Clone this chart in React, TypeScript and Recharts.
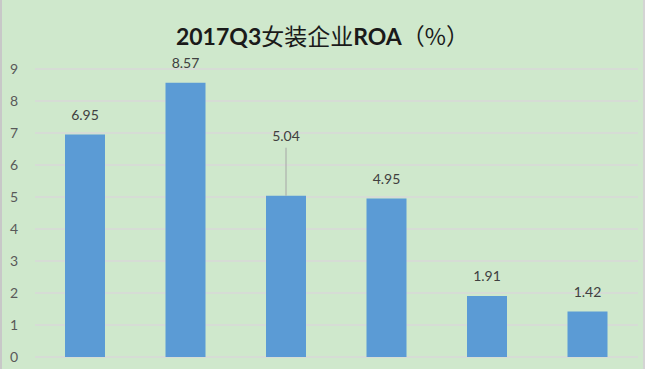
import React from 'react';
import { BarChart, Bar, XAxis, YAxis, CartesianGrid, LabelList } from 'recharts';

const categories = ['公司1', '公司2', '公司3', '公司4', '公司5', '公司6'];
const roaValues = [6.95, 8.57, 5.04, 4.95, 1.91, 1.42];
const yTicks = [0, 1, 2, 3, 4, 5, 6, 7, 8, 9];
const titleParts = ['2017Q3', '女装企业', 'ROA', '（%）'];

const data = categories.map((name, i) => ({ name, roa: roaValues[i] }));

const FONT = 'Lato, "Noto Sans CJK SC", sans-serif';

const renderLabel = (props: any) => {
  const { x, y, width, value, index } = props;
  const cx = x + width / 2;
  if (index === 2) {
    const ly = y - 60;
    return (
      <g>
        <line x1={cx} y1={ly + 12} x2={cx} y2={y} stroke="#a6a6a6" strokeWidth={1} />
        <text x={cx} y={ly} textAnchor="middle" dominantBaseline="central" fill="#404040" fontSize={14} fontFamily={FONT}>
          {value.toFixed(2)}
        </text>
      </g>
    );
  }
  return (
    <text x={cx} y={y - 20} textAnchor="middle" dominantBaseline="central" fill="#404040" fontSize={14} fontFamily={FONT}>
      {value.toFixed(2)}
    </text>
  );
};

export default function App() {
  return (
    <div
      style={{
        position: 'absolute',
        left: 0,
        top: 0,
        width: 645,
        height: 369,
        background: '#cfe8cc',
        boxSizing: 'border-box',
        borderLeft: '2px solid #c8c8c8',
        borderRight: '2px solid #d4d4d4',
        fontFamily: FONT,
      }}
    >
      <div
        style={{
          position: 'absolute',
          left: 0,
          width: 641,
          top: 20,
          textAlign: 'center',
          fontSize: 23,
          lineHeight: '30px',
          color: '#1a1a1a',
        }}
      >
        <span style={{ fontWeight: 700 }}>{titleParts[0]}</span>
        <span style={{ fontWeight: 400, fontFamily: '"Noto Sans CJK SC", sans-serif' }}>{titleParts[1]}</span>
        <span style={{ fontWeight: 700 }}>{titleParts[2]}</span>
        <span style={{ fontWeight: 400, fontFamily: '"Noto Sans CJK SC", sans-serif' }}>{titleParts[3]}</span>
      </div>
      <div style={{ position: 'absolute', left: -2, top: 0 }}>
        <BarChart width={645} height={369} data={data} margin={{ top: 69, right: 7, bottom: 12, left: 0 }}>
          <CartesianGrid vertical={false} stroke="#d9d9d9" strokeWidth={1.5} />
          <XAxis dataKey="name" hide />
          <YAxis
            domain={[0, 9]}
            ticks={yTicks}
            interval={0}
            width={35}
            axisLine={false}
            tickLine={false}
            tickMargin={11}
            tick={{ fill: '#595959', fontSize: 14, fontFamily: FONT }}
          />
          <Bar dataKey="roa" fill="#5b9bd5" barSize={40} isAnimationActive={false}>
            <LabelList dataKey="roa" content={renderLabel} />
          </Bar>
        </BarChart>
      </div>
    </div>
  );
}
